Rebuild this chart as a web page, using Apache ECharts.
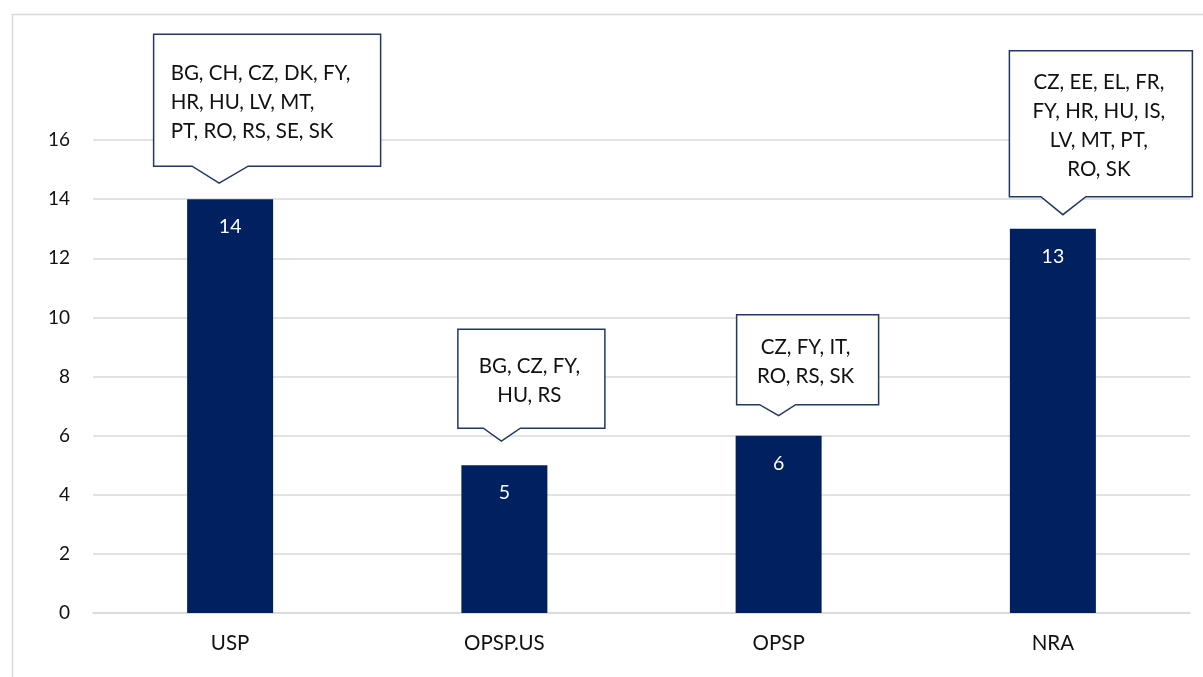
<!DOCTYPE html>
<html>
<head>
<meta charset="utf-8">
<script src="https://cdn.jsdelivr.net/npm/echarts@6/dist/echarts.min.js"></script>
<style>
  html, body { margin: 0; padding: 0; background: #fff; }
  #chart { width: 1203px; height: 677px; }
</style>
</head>
<body>
<div id="chart"></div>
<script>
// Categories and counts of countries per category
const categories = ['USP', 'OPSP.US', 'OPSP', 'NRA'];
const counts = [14, 5, 6, 13];

// Country codes shown in each callout, one array per text line
const uspCountries = [['BG', 'CH', 'CZ', 'DK', 'FY'], ['HR', 'HU', 'LV', 'MT'], ['PT', 'RO', 'RS', 'SE', 'SK']];
const opspUsCountries = [['BG', 'CZ', 'FY'], ['HU', 'RS']];
const opspCountries = [['CZ', 'FY', 'IT'], ['RO', 'RS', 'SK']];
const nraCountries = [['CZ', 'EE', 'EL', 'FR'], ['FY', 'HR', 'HU', 'IS'], ['LV', 'MT', 'PT'], ['RO', 'SK']];
const calloutCountries = [uspCountries, opspUsCountries, opspCountries, nraCountries];

// Y axis tick values
const yTicks = [0, 2, 4, 6, 8, 10, 12, 14, 16];

// Callout shapes (pixels): tip offset from bar centre, gap above bar top,
// pointer depth and half-widths, box centre offset from tip, box size, text alignment
const calloutShape = [
  { tipDx: -11, gap: 16, depth: 17, baseL: 27, baseR: 29, boxDx: 48, w: 227, h: 132, align: 'left', pad: 17 },
  { tipDx: -3,  gap: 24, depth: 13, baseL: 18, baseR: 19, boxDx: 30, w: 147, h: 99, align: 'center' },
  { tipDx: 0,   gap: 20, depth: 11, baseL: 19, baseR: 17, boxDx: 29, w: 142, h: 90, align: 'center' },
  { tipDx: 10,  gap: 14, depth: 18, baseL: 22, baseR: 23, boxDx: 38, w: 183, h: 146, align: 'center' }
];

const FONT = 'Lato, "Open Sans", sans-serif';
const NAVY = '#002060';

function calloutText(lines) {
  return lines.map(l => l.join(', ')).join(',\n');
}

const chart = echarts.init(document.getElementById('chart'), null, { renderer: 'canvas' });

chart.setOption({
  animation: false,
  backgroundColor: '#ffffff',
  graphic: [{
    type: 'rect',
    shape: { x: 12.5, y: 14.5, width: 1220, height: 700 },
    style: { fill: 'none', stroke: '#d9d9d9', lineWidth: 1.5 },
    silent: true,
    z: 0
  }],
  grid: { left: 93, right: 13, top: 140, bottom: 64 },
  xAxis: {
    type: 'category',
    data: categories,
    axisLine: { show: true, lineStyle: { color: '#d9d9d9', width: 1.5 } },
    axisTick: { show: false },
    axisLabel: { color: '#111111', fontFamily: FONT, fontSize: 20.5, margin: 20 }
  },
  yAxis: {
    type: 'value',
    min: yTicks[0],
    max: yTicks[yTicks.length - 1],
    interval: yTicks[1] - yTicks[0],
    axisLine: { show: false },
    axisTick: { show: false },
    splitLine: { lineStyle: { color: '#d9d9d9', width: 1.5 } },
    axisLabel: { color: '#111111', fontFamily: FONT, fontSize: 19, margin: 23 }
  },
  series: [
    {
      type: 'bar',
      data: counts,
      barWidth: 86,
      itemStyle: { color: NAVY },
      label: {
        show: true,
        position: 'insideTop',
        distance: 18,
        color: '#ffffff',
        fontFamily: FONT,
        fontSize: 19.5
      },
      z: 2
    },
    {
      type: 'custom',
      clip: false,
      z: 5,
      data: counts.map((v, i) => [i, v]),
      renderItem: function (params, api) {
        const i = params.dataIndex;
        const s = calloutShape[i];
        const top = api.coord([api.value(0), api.value(1)]);
        const tx = top[0] + s.tipDx;
        const ty = top[1] - s.gap;
        const bottom = ty - s.depth;
        const cx = tx + s.boxDx;
        const left = cx - s.w / 2;
        const right = cx + s.w / 2;
        const boxTop = bottom - s.h;
        const pts = [
          [left, boxTop], [right, boxTop], [right, bottom],
          [tx + s.baseR, bottom], [tx, ty], [tx - s.baseL, bottom],
          [left, bottom]
        ];
        const textX = s.align === 'left' ? left + s.pad : cx - 2;
        return {
          type: 'group',
          children: [
            {
              type: 'polygon',
              shape: { points: pts },
              style: { fill: '#ffffff', stroke: '#1f3864', lineWidth: 1.5 }
            },
            {
              type: 'text',
              x: textX,
              y: boxTop + s.h / 2 + 2,
              style: {
                text: calloutText(calloutCountries[i]),
                fill: '#111111',
                font: '20.5px ' + FONT,
                lineHeight: 29,
                align: s.align,
                verticalAlign: 'middle'
              }
            }
          ]
        };
      }
    }
  ]
});
</script>
</body>
</html>
